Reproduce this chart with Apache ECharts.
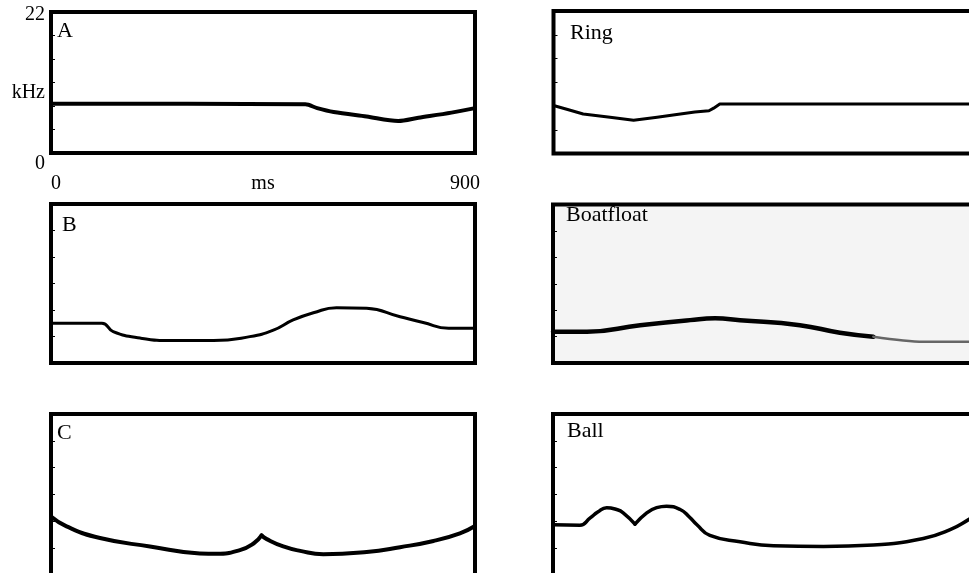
<!DOCTYPE html>
<html>
<head>
<meta charset="utf-8">
<script src="https://cdn.jsdelivr.net/npm/echarts@6/dist/echarts.min.js"></script>
<style>
  html, body { margin: 0; padding: 0; background: #fff; }
  #chart { width: 969px; height: 573px; }
</style>
</head>
<body>
<div id="chart"></div>
<script>
// ---- data (time in ms, frequency in kHz) ----
const xMin = 0, xMax = 900;
const yMin = 0, yMax = 22;
const yTickSteps = 6;
const xTickLabels = ['0', '900'];
const yTickLabels = ['0', '22'];
const xUnit = 'ms';
const yUnit = 'kHz';
const panelNames = ['A', 'Ring', 'B', 'Boatfloat', 'C', 'Ball'];

const dataA = [[0, 7.7], [40, 7.7], [540, 7.6], [565, 7.0], [600, 6.4], [670, 5.7], [737, 5.0], [780, 5.5], [850, 6.3], [900, 7.0]];
const dataRing = [[0, 7.4], [30, 6.8], [63, 6.1], [120, 5.6], [170, 5.15], [220, 5.6], [254, 5.95], [300, 6.4], [330, 6.6], [340, 7.0], [353, 7.64], [900, 7.64]];
const dataB = [[0, 5.5], [108, 5.5], [132, 4.35], [189, 3.45], [260, 3.1], [345, 3.1], [422, 3.65], [472, 4.55], [514, 5.95], [557, 6.95], [606, 7.65], [670, 7.57], [741, 6.4], [790, 5.6], [844, 4.8], [900, 4.8]];
const dataBoat = [[0, 4.35], [72, 4.35], [185, 5.25], [291, 5.95], [344, 6.2], [397, 5.95], [524, 5.25], [609, 4.2], [680, 3.65]];
const dataBoatTail = [[680, 3.65], [786, 2.95], [900, 2.95]];
const dataCLeft = [[0, 8.0], [33, 6.65], [104, 5.05], [210, 3.9], [316, 2.95], [352, 2.9], [401, 3.4], [430, 4.3], [447, 5.4]];
const dataCRight = [[447, 5.4], [458, 4.9], [493, 3.9], [529, 3.3], [578, 2.85], [670, 3.15], [741, 3.8], [812, 4.65], [868, 5.7], [900, 6.7]];
const dataBallLeft = [[0, 6.85], [57, 6.8], [79, 7.8], [95, 8.6], [114, 9.2], [135, 8.95], [149, 8.5], [174, 6.95]];
const dataBallRight = [[174, 6.95], [199, 8.5], [220, 9.2], [241, 9.4], [270, 8.95], [290, 7.9], [305, 6.9], [333, 5.4], [397, 4.55], [468, 4.0], [574, 3.9], [680, 4.1], [786, 5.0], [843, 6.2], [883, 7.6], [900, 8.3]];

// ---- layout ----
const FONT = 'Liberation Serif';
const grids = [
  { left: 51, top: 12, width: 424, height: 141 },
  { left: 553.5, top: 11, width: 424, height: 142.5 },
  { left: 51, top: 204, width: 424, height: 159 },
  { left: 553, top: 204.5, width: 424, height: 158.5, bg: '#f4f4f4' },
  { left: 51, top: 414, width: 424, height: 161 },
  { left: 553, top: 414, width: 424, height: 161 }
];
const labelPos = [
  { left: 57, top: 20 },
  { left: 570, top: 22 },
  { left: 62, top: 214 },
  { left: 566, top: 204 },
  { left: 57, top: 422 },
  { left: 567, top: 420 }
];

const option = {
  animation: false,
  backgroundColor: '#fff',
  textStyle: { fontFamily: FONT, color: '#000' },
  title: panelNames.map((n, i) => ({
    text: n, left: labelPos[i].left, top: labelPos[i].top, padding: 0,
    textStyle: { fontFamily: FONT, fontWeight: 'normal', fontSize: 22, color: '#000' }
  })),
  grid: grids.map(g => ({
    left: g.left, top: g.top, width: g.width, height: g.height,
    show: true, borderColor: '#000', borderWidth: 4,
    backgroundColor: g.bg || 'transparent', containLabel: false,
    outerBoundsMode: 'none'
  })),
  xAxis: grids.map((g, i) => ({
    type: 'value', gridIndex: i, min: xMin, max: xMax,
    splitLine: { show: false }, axisLine: { show: false }, axisTick: { show: false },
    name: i === 0 ? xUnit : '', nameLocation: 'middle', nameGap: 21, nameMoveOverlap: false,
    nameTextStyle: { fontFamily: FONT, fontSize: 20, color: '#000', verticalAlign: 'top' },
    axisLabel: i === 0 ? {
      show: true, margin: 21, fontFamily: FONT, fontSize: 20, color: '#000',
      alignMinLabel: 'left', alignMaxLabel: 'center',
      formatter: v => v === xMin ? xTickLabels[0] : (v === xMax ? '{r|' + xTickLabels[1] + '}' : ''),
      rich: { r: { fontFamily: FONT, fontSize: 20, color: '#000', padding: [0, 20, 0, 0] } }
    } : { show: false }
  })),
  yAxis: grids.map((g, i) => ({
    type: 'value', gridIndex: i, min: yMin, max: yMax, interval: (yMax - yMin) / yTickSteps,
    splitLine: { show: false }, axisLine: { show: false },
    axisTick: { show: true, inside: true, length: 4, lineStyle: { color: '#000', width: 1 } },
    name: i === 0 ? yUnit : '', nameLocation: 'middle', nameRotate: 0, nameGap: 6, nameMoveOverlap: false,
    nameTextStyle: { fontFamily: FONT, fontSize: 20, color: '#000', align: 'right', verticalAlign: 'top' },
    axisLabel: i === 0 ? {
      show: true, margin: 6, fontFamily: FONT, fontSize: 20, color: '#000',
      formatter: v => Math.abs(v - yMin) < 1e-6 ? '{lo|' + yTickLabels[0] + '}' : (Math.abs(v - yMax) < 1e-6 ? '{hi|' + yTickLabels[1] + '}' : ''),
      rich: {
        lo: { fontFamily: FONT, fontSize: 20, color: '#000', padding: [22, 0, 0, 0] },
        hi: { fontFamily: FONT, fontSize: 20, color: '#000', padding: [5, 0, 0, 0] }
      }
    } : { show: false }
  })),
  series: [
    { data: dataA, idx: 0, w: 4, smooth: 0.3 },
    { data: dataRing, idx: 1, w: 3, smooth: false },
    { data: dataB, idx: 2, w: 3, smooth: 0.5 },
    { data: dataBoat, idx: 3, w: 4.5, smooth: 0.5 },
    { data: dataBoatTail, idx: 3, w: 2.5, smooth: 0.3, color: '#666' },
    { data: dataCLeft, idx: 4, w: 4, smooth: 0.5 },
    { data: dataCRight, idx: 4, w: 4, smooth: 0.5 },
    { data: dataBallLeft, idx: 5, w: 3.5, smooth: 0.5 },
    { data: dataBallRight, idx: 5, w: 3.5, smooth: 0.5 }
  ].map(s => ({
    type: 'line', xAxisIndex: s.idx, yAxisIndex: s.idx, data: s.data,
    showSymbol: false, symbol: 'none', smooth: s.smooth,
    lineStyle: { color: s.color || '#000', width: s.w, join: 'round', cap: 'round' },
    clip: true, silent: true
  }))
};

const chart = echarts.init(document.getElementById('chart'), null, { renderer: 'canvas' });
chart.setOption(option);
</script>
</body>
</html>
